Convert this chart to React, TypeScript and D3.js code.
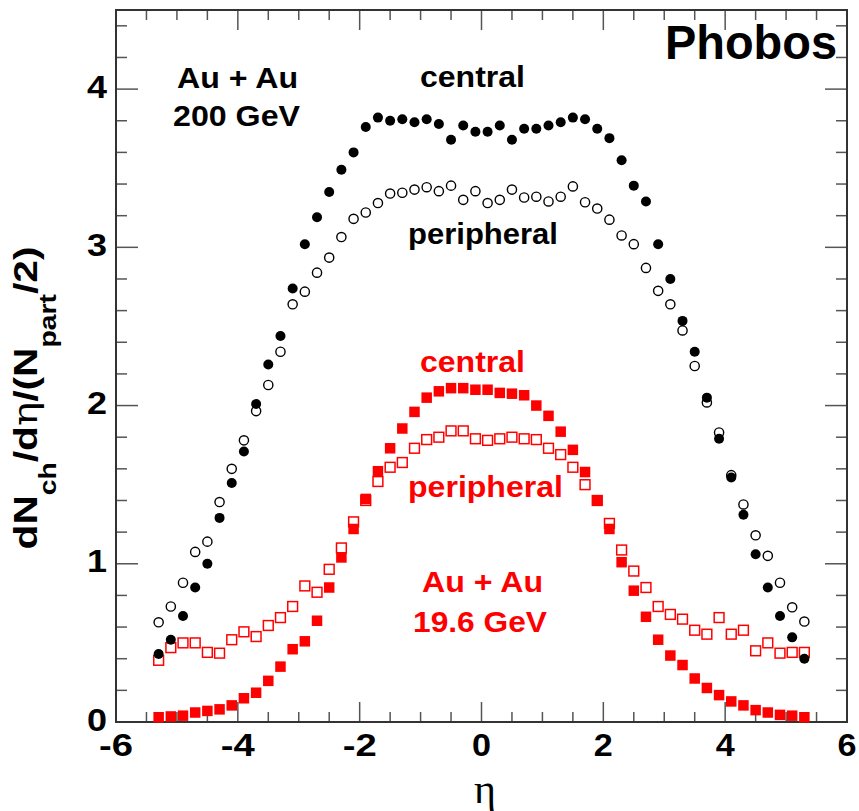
import React, { useLayoutEffect, useRef, useState } from "react";
import * as d3 from "d3";

// pseudorapidity bin centres
const eta = [
  -5.3, -5.1, -4.9, -4.7, -4.5, -4.3, -4.1, -3.9, -3.7, -3.5, -3.3, -3.1, -2.9, -2.7, -2.5, -2.3, -2.1, -1.9,
  -1.7, -1.5, -1.3, -1.1, -0.9, -0.7, -0.5, -0.3, -0.1, 0.1, 0.3, 0.5, 0.7, 0.9, 1.1, 1.3, 1.5, 1.7,
  1.9, 2.1, 2.3, 2.5, 2.7, 2.9, 3.1, 3.3, 3.5, 3.7, 3.9, 4.1, 4.3, 4.5, 4.7, 4.9, 5.1, 5.3,
];

// Au+Au 200 GeV central (filled circles)
const central200 = [
  0.43, 0.52, 0.67, 0.85, 1.0, 1.29, 1.51, 1.71, 2.01, 2.26, 2.44, 2.74, 3.02, 3.19, 3.35, 3.49, 3.6, 3.76,
  3.82, 3.8, 3.81, 3.79, 3.81, 3.78, 3.68, 3.77, 3.73, 3.73, 3.77, 3.68, 3.75, 3.75, 3.77, 3.79, 3.82, 3.81,
  3.75, 3.69, 3.55, 3.39, 3.29, 3.02, 2.8, 2.535, 2.34, 2.05, 1.79, 1.545, 1.31, 1.06, 0.85, 0.67, 0.535, 0.4,
];

// Au+Au 200 GeV peripheral (open circles)
const peripheral200 = [
  0.63, 0.73, 0.88, 1.075, 1.14, 1.39, 1.6, 1.78, 1.965, 2.13, 2.34, 2.64, 2.72, 2.84, 2.935, 3.065, 3.18, 3.22,
  3.28, 3.34, 3.345, 3.365, 3.38, 3.355, 3.39, 3.3, 3.355, 3.28, 3.3, 3.365, 3.315, 3.32, 3.29, 3.32, 3.385, 3.285,
  3.245, 3.175, 3.075, 3.02, 2.87, 2.725, 2.64, 2.475, 2.25, 2.02, 1.83, 1.56, 1.375, 1.18, 1.05, 0.88, 0.725, 0.635,
];

// Au+Au 19.6 GeV central (filled squares)
const central19 = [
  0.03, 0.035, 0.04, 0.06, 0.07, 0.08, 0.105, 0.15, 0.185, 0.26, 0.35, 0.46, 0.51, 0.64, 0.85, 1.04, 1.22, 1.41,
  1.585, 1.73, 1.855, 1.96, 2.05, 2.09, 2.11, 2.11, 2.1, 2.1, 2.08, 2.075, 2.065, 2.0, 1.935, 1.835, 1.72, 1.58,
  1.4, 1.22, 1.01, 0.83, 0.665, 0.52, 0.42, 0.36, 0.275, 0.215, 0.17, 0.13, 0.105, 0.075, 0.06, 0.045, 0.04, 0.03,
];

// Au+Au 19.6 GeV peripheral (open squares)
const peripheral19 = [
  0.39, 0.47, 0.5, 0.5, 0.44, 0.435, 0.52, 0.57, 0.54, 0.61, 0.66, 0.73, 0.86, 0.82, 0.965, 1.1, 1.265, 1.4,
  1.52, 1.61, 1.64, 1.73, 1.785, 1.8, 1.84, 1.84, 1.79, 1.78, 1.79, 1.8, 1.79, 1.785, 1.73, 1.69, 1.61, 1.5,
  1.4, 1.255, 1.087, 0.954, 0.85, 0.73, 0.68, 0.65, 0.58, 0.555, 0.66, 0.555, 0.58, 0.45, 0.5, 0.435, 0.44, 0.44,
];

const xTickLabels = ["-6", "-4", "-2", "0", "2", "4", "6"];
const yTickLabels = ["0", "1", "2", "3", "4"];

const W = 859;
const H = 811;
const FONT = "'Liberation Sans', Arial, Helvetica, sans-serif";
const RED = "#ff0000";

const x = d3.scaleLinear().domain([-6, 6]).range([116, 847]);
const y = d3.scaleLinear().domain([0, 4.5]).range([722, 10]);

function Lbl(props: { x: number; y: number; w: number; size: number; fill: string; text: string; anchor?: string }) {
  return (
    <text
      x={props.x}
      y={props.y}
      fontSize={props.size}
      fontWeight="bold"
      fontFamily={FONT}
      fill={props.fill}
      textAnchor={props.anchor || "middle"}
      textLength={props.w}
      lengthAdjust="spacingAndGlyphs"
    >
      {props.text}
    </text>
  );
}

function YTitle() {
  const ref = useRef<SVGTextElement>(null);
  const [sx, setSx] = useState(1);
  useLayoutEffect(() => {
    if (ref.current) {
      const w = ref.current.getBBox().width;
      if (w > 0) setSx(303 / w);
    }
  }, []);
  const sub = 23;
  const shift = 19;
  return (
    <text
      ref={ref}
      transform={`translate(37,398) rotate(-90) scale(${sx},1)`}
      textAnchor="middle"
      fontFamily={FONT}
      fontWeight="bold"
      fontSize={33}
      fill="#000"
    >
      <tspan>dN</tspan>
      <tspan fontSize={sub} dy={shift}>ch</tspan>
      <tspan dy={-shift}>/d</tspan>
      <tspan fontFamily="'DejaVu Serif', 'Liberation Serif', serif" fontWeight="normal">η</tspan>
      <tspan>/(N</tspan>
      <tspan fontSize={sub} dy={shift}>part</tspan>
      <tspan dy={-shift}>/2)</tspan>
    </text>
  );
}

export default function App() {
  const xMajor = d3.range(-6, 6.001, 2);
  const xMinor = d3.range(-6, 6.001, 0.5).filter((v) => Math.abs(v / 2 - Math.round(v / 2)) > 1e-6);
  const yMajor = d3.range(0, 4.001, 1);
  const yMinor = d3.range(0, 4.5, 0.2).filter((v) => Math.abs(v - Math.round(v)) > 1e-6);
  const [x0, x1] = x.range();
  const [y0, y1] = y.range();
  const tickColor = "#555";

  const series = (vals: number[]) => eta.map((e, i) => ({ e, v: vals[i] }));

  return (
    <svg width={W} height={H} style={{ position: "absolute", left: 0, top: 0, background: "#fff" }}>
      <rect x={0} y={0} width={W} height={H} fill="#fff" />
      {/* ticks */}
      <g stroke={tickColor} strokeWidth={1.5}>
        {xMajor.map((v) => (
          <g key={"xM" + v}>
            <line x1={x(v)} x2={x(v)} y1={y0} y2={y0 - 20} />
            <line x1={x(v)} x2={x(v)} y1={y1} y2={y1 + 20} />
          </g>
        ))}
        {xMinor.map((v) => (
          <g key={"xm" + v}>
            <line x1={x(v)} x2={x(v)} y1={y0} y2={y0 - 10} />
            <line x1={x(v)} x2={x(v)} y1={y1} y2={y1 + 10} />
          </g>
        ))}
        {yMajor.map((v) => (
          <g key={"yM" + v}>
            <line x1={x0} x2={x0 + 22} y1={y(v)} y2={y(v)} />
            <line x1={x1} x2={x1 - 22} y1={y(v)} y2={y(v)} />
          </g>
        ))}
        {yMinor.map((v) => (
          <g key={"ym" + v}>
            <line x1={x0} x2={x0 + 11} y1={y(v)} y2={y(v)} />
            <line x1={x1} x2={x1 - 11} y1={y(v)} y2={y(v)} />
          </g>
        ))}
      </g>
      <rect x={x0} y={y1} width={x1 - x0} height={y0 - y1} fill="none" stroke="#333" strokeWidth={2} />

      {/* tick labels */}
      {xTickLabels.map((t, i) => (
        <Lbl key={"xl" + t} x={x(xMajor[i])} y={756} w={t.length > 1 ? 34 : 19} size={31} fill="#000" text={t} />
      ))}
      {yTickLabels.map((t, i) => (
        <Lbl key={"yl" + t} x={107} y={y(yMajor[i]) + 8.5} w={20} size={32} fill="#000" text={t} anchor="end" />
      ))}

      {/* axis titles */}
      <text x={485} y={803} fontSize={42} fontFamily="'Liberation Serif', 'DejaVu Serif', serif" textAnchor="middle" fill="#000">
        η
      </text>
      <YTitle />

      {/* data: 19.6 GeV */}
      {series(peripheral19).map((d, i) => (
        <rect key={"p19" + i} x={x(d.e) - 4.9} y={y(d.v) - 4.9} width={9.8} height={9.8} fill="none" stroke={RED} strokeWidth={1.5} />
      ))}
      {series(central19).map((d, i) => (
        <rect key={"c19" + i} x={x(d.e) - 5.25} y={y(d.v) - 5.25} width={10.5} height={10.5} fill={RED} />
      ))}
      {/* data: 200 GeV */}
      {series(peripheral200).map((d, i) => (
        <circle key={"p200" + i} cx={x(d.e)} cy={y(d.v)} r={4.6} fill="none" stroke="#000" strokeWidth={1.4} />
      ))}
      {series(central200).map((d, i) => (
        <circle key={"c200" + i} cx={x(d.e)} cy={y(d.v)} r={5} fill="#000" />
      ))}

      {/* annotations */}
      <Lbl x={751} y={59} w={172} size={48} fill="#000" text="Phobos" />
      <Lbl x={237.5} y={88} w={121} size={30} fill="#000" text="Au + Au" />
      <Lbl x={236.5} y={126} w={127} size={30} fill="#000" text="200 GeV" />
      <Lbl x={472.5} y={87} w={105} size={30} fill="#000" text="central" />
      <Lbl x={483} y={244} w={150} size={30} fill="#000" text="peripheral" />
      <Lbl x={472.5} y={372} w={105} size={30} fill={RED} text="central" />
      <Lbl x={485.5} y={497} w={155} size={30} fill={RED} text="peripheral" />
      <Lbl x={482.5} y={592} w={121} size={30} fill={RED} text="Au + Au" />
      <Lbl x={480} y={632} w={134} size={30} fill={RED} text="19.6 GeV" />
    </svg>
  );
}
